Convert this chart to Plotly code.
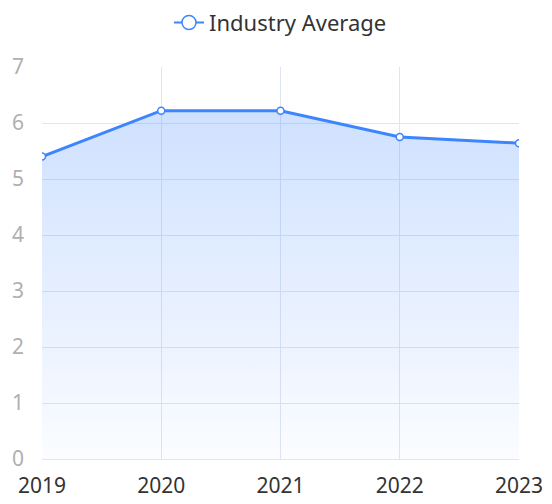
import plotly.graph_objects as go

years = [2019, 2020, 2021, 2022, 2023]
values = [5.4, 6.22, 6.22, 5.75, 5.64]
series_name = "Industry Average"
y_ticks = [0, 1, 2, 3, 4, 5, 6, 7]

line_color = "#3d85ff"
font_family = "Microsoft YaHei, Noto Sans, DejaVu Sans, sans-serif"

fig = go.Figure()
fig.add_trace(go.Scatter(
    x=years, y=values, name=series_name, showlegend=False,
    mode="lines+markers",
    line=dict(color=line_color, width=3),
    marker=dict(symbol="circle", size=7, color="white",
                line=dict(color=line_color, width=1.5)),
    fill="tozeroy",
    fillgradient=dict(type="vertical", start=0, stop=6.3,
                      colorscale=[[0, "rgba(61,133,255,0.02)"],
                                  [1, "rgba(61,133,255,0.25)"]]),
))
# legend entry (larger hollow marker, as in the reference legend)
fig.add_trace(go.Scatter(
    x=[None], y=[None], name=series_name, mode="lines+markers",
    line=dict(color=line_color, width=2),
    marker=dict(symbol="circle", size=14, color="white",
                line=dict(color=line_color, width=1.5)),
))

fig.update_layout(
    width=552, height=504,
    margin=dict(l=34, r=41, t=59, b=53, autoexpand=False),
    paper_bgcolor="white", plot_bgcolor="white",
    font=dict(family=font_family, size=20, color="#333"),
    showlegend=True,
    legend=dict(orientation="h", x=0.5, xanchor="center", y=1.113, yanchor="middle",
                itemsizing="trace", font=dict(size=22, color="#333")),
    xaxis=dict(range=[2019, 2023], tickvals=years, ticktext=[str(y) for y in years],
               showgrid=True, gridcolor="#e0e6f1", gridwidth=1, automargin=False,
               zeroline=False, showline=True, linecolor="#e0e6f1",
               ticks="", tickfont=dict(size=21, color="#333"), ticklabelstandoff=8),
    yaxis=dict(range=[0, 7], tickvals=y_ticks, automargin=False,
               showgrid=True, gridcolor="#e0e6f1", gridwidth=1,
               zeroline=False, showline=False,
               ticks="", tickfont=dict(size=21, color="#b0b0b0"), ticklabelstandoff=17),
)

fig.write_html("out.html")
